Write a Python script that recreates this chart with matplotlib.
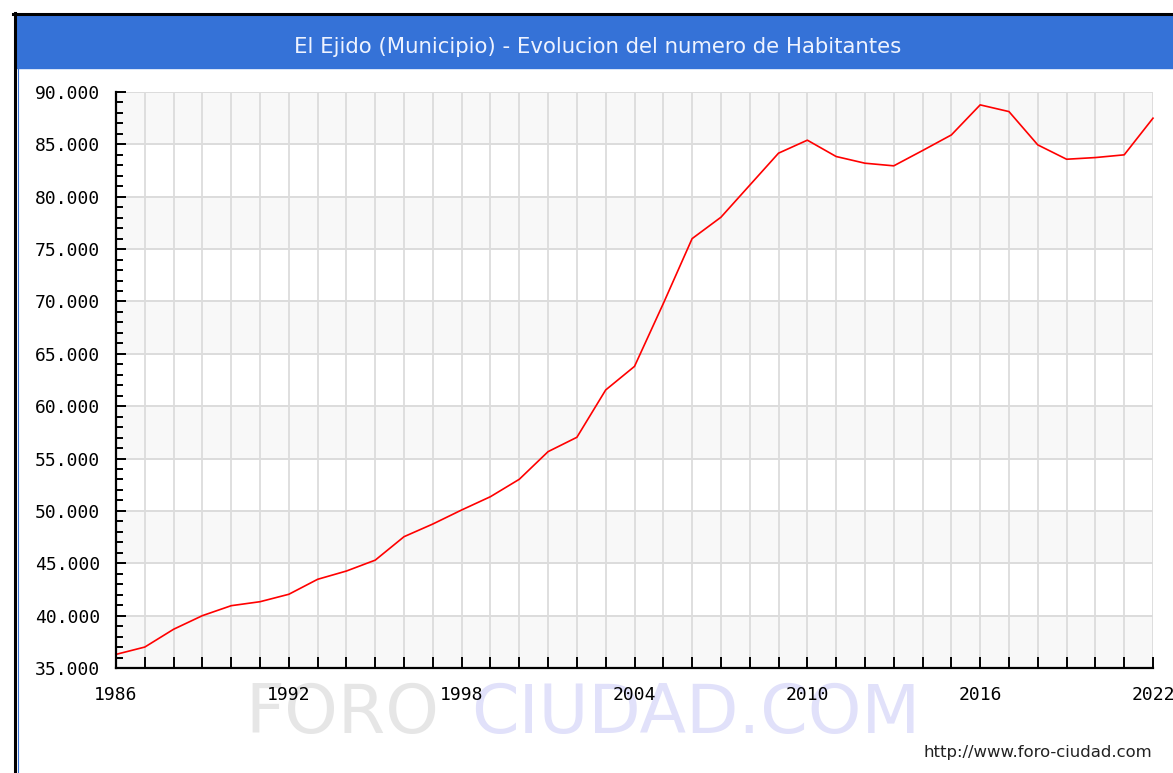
import matplotlib
matplotlib.use("Agg")
import matplotlib.pyplot as plt
from matplotlib import font_manager as fm
from matplotlib.lines import Line2D
from matplotlib.patches import Rectangle
from matplotlib.ticker import FuncFormatter, MultipleLocator

# ----------------------------
# Datos
# ----------------------------
anios = list(range(1986, 2023))
habitantes = [36300, 37000, 38700, 40000, 40950, 41330, 42040, 43470, 44260,
              45300, 47540, 48750, 50090, 51360, 53020, 55660, 57030, 61550,
              63800, 69800, 76000, 78040, 81100, 84160, 85400, 83840, 83200,
              82950, 84410, 85900, 88770, 88130, 84950, 83580, 83740, 84000,
              87500]
anios_etiqueta = list(range(1986, 2023, 6))
titulo = "El Ejido (Municipio) - Evolucion del numero de Habitantes"
url = "http://www.foro-ciudad.com"

AZUL = "#3572d7"
ROJO = "#ff0000"
GRIS_GRID = "#dcdcdc"
GRIS_BANDA = "#f8f8f8"

W, H = 1173, 773
nombres = {f.name for f in fm.fontManager.ttflist}
NARROW = "Liberation Sans Narrow" if "Liberation Sans Narrow" in nombres else "DejaVu Sans"


def fx(px):
    return px / W


def fy(py):
    return 1 - py / H


def ajustar_ancho(txt, ancho_px, renderer):
    bb = txt.get_window_extent(renderer)
    txt.set_fontsize(txt.get_fontsize() * ancho_px / bb.width)


fig = plt.figure(figsize=(W / 100, H / 100), dpi=100)
fig.patch.set_facecolor("white")

# marco y barra de titulo
fig.patches.append(Rectangle((fx(16), fy(68)), fx(W - 16), fy(15) - fy(68),
                             transform=fig.transFigure, color=AZUL, zorder=1))
fig.lines.append(Line2D([fx(14.5), fx(14.5)], [fy(13), fy(H)], color="black",
                        lw=2.2, transform=fig.transFigure))
fig.lines.append(Line2D([fx(13), fx(W)], [fy(14), fy(14)], color="black",
                        lw=2.2, transform=fig.transFigure))
fig.lines.append(Line2D([fx(17.5), fx(17.5)], [fy(68), fy(H)], color=AZUL,
                        lw=0.8, transform=fig.transFigure))

t_titulo = fig.text(fx(598), fy(53), titulo, color="#eef3ff", ha="center",
                    va="baseline", fontsize=18, family=NARROW)

# marca de agua
t_foro = fig.text(fx(245), fy(733), "FORO", color="#e6e6e6", ha="left",
                  va="baseline", fontsize=60, family=NARROW, zorder=-1)
t_ciudad = fig.text(fx(920), fy(733), "CIUDAD.COM", color="#e1e1fa", ha="right",
                    va="baseline", fontsize=60, family=NARROW, zorder=-1)

t_url = fig.text(fx(1152), fy(752), url, color="#222222", ha="right",
                 va="center", fontsize=11, family="DejaVu Sans")

# ----------------------------
# Ejes
# ----------------------------
ax = fig.add_axes([fx(116), fy(668), fx(1153 - 116), fy(92) - fy(668)])
ax.set_xlim(anios[0], anios[-1])
ax.set_ylim(35000, 90000)

for i, y0 in enumerate(range(35000, 90000, 5000)):
    ax.axhspan(y0, y0 + 5000, color=GRIS_BANDA if i % 2 == 0 else "white",
               lw=0, zorder=0)

ax.set_xticks(anios_etiqueta)
ax.set_xticklabels([str(a) for a in anios_etiqueta])
ax.xaxis.set_minor_locator(MultipleLocator(1))
ax.yaxis.set_major_locator(MultipleLocator(5000))
ax.yaxis.set_minor_locator(MultipleLocator(1000))
ax.yaxis.set_major_formatter(FuncFormatter(lambda v, p: f"{v:,.0f}".replace(",", ".")))

ax.grid(True, axis="x", which="both", color=GRIS_GRID, lw=1.3, zorder=1)
ax.grid(True, axis="y", which="major", color=GRIS_GRID, lw=1.4, zorder=1)
ax.set_axisbelow(True)

ax.tick_params(axis="x", which="both", direction="in", length=8, width=1.4,
               color="black", pad=13)
ax.tick_params(axis="y", which="major", direction="in", length=7, width=1.4,
               color="black", pad=11.5)
ax.tick_params(axis="y", which="minor", direction="in", length=5, width=1.4,
               color="black")
for lab in ax.get_xticklabels() + ax.get_yticklabels():
    lab.set_family("DejaVu Sans Mono")
    lab.set_fontsize(13)
    lab.set_color("black")

for s in ("top", "right"):
    ax.spines[s].set_visible(False)
for s in ("left", "bottom"):
    ax.spines[s].set_linewidth(1.6)
    ax.spines[s].set_color("black")
    ax.spines[s].set_zorder(5)

ax.plot(anios, habitantes, color=ROJO, lw=1.2, zorder=4, clip_on=False)

fig.canvas.draw()
r = fig.canvas.get_renderer()
ajustar_ancho(t_titulo, 610, r)
ajustar_ancho(t_url, 229, r)
bb_f = t_foro.get_window_extent(r)
bb_c = t_ciudad.get_window_extent(r)
escala = (920 - 245) / (bb_f.width + bb_c.width + 40)
t_foro.set_fontsize(t_foro.get_fontsize() * escala)
t_ciudad.set_fontsize(t_ciudad.get_fontsize() * escala)

fig.savefig("out.png", dpi=100)
